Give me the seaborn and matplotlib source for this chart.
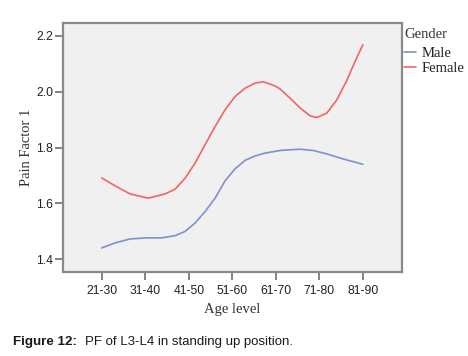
import matplotlib
matplotlib.use("Agg")
import matplotlib.pyplot as plt
import seaborn as sns
import pandas as pd

categories = ["21-30", "31-40", "41-50", "51-60", "61-70", "71-80", "81-90"]

# positions along the category axis (0 = 21-30 ... 6 = 81-90)
male_pos = [0.0, 0.306, 0.651, 1.0, 1.38, 1.685, 1.915, 2.145, 2.375, 2.605,
            2.835, 3.064, 3.294, 3.524, 3.754, 4.13, 4.56, 4.87, 5.172, 5.55, 6.0]
male_pf = [1.441, 1.459, 1.473, 1.477, 1.477, 1.485, 1.500, 1.530, 1.571, 1.619,
           1.681, 1.724, 1.754, 1.770, 1.780, 1.790, 1.794, 1.789, 1.777, 1.759, 1.740]

female_pos = [0.0, 0.306, 0.651, 1.07, 1.455, 1.685, 1.915, 2.145, 2.375, 2.605,
              2.835, 3.064, 3.294, 3.524, 3.715, 3.984, 4.10, 4.33, 4.56, 4.79,
              4.94, 5.172, 5.402, 5.632, 5.82, 6.0]
female_pf = [1.691, 1.663, 1.634, 1.619, 1.634, 1.651, 1.690, 1.744, 1.810, 1.875,
             1.935, 1.982, 2.012, 2.030, 2.035, 2.020, 2.009, 1.976, 1.941, 1.913,
             1.907, 1.923, 1.970, 2.040, 2.107, 2.167]

yticks = [1.4, 1.6, 1.8, 2.0, 2.2]

df = pd.DataFrame({
    "pos": male_pos + female_pos,
    "pf": male_pf + female_pf,
    "Gender": ["Male"] * len(male_pos) + ["Female"] * len(female_pos),
})

sns.set_style("white")
plt.rcParams["font.family"] = ["Liberation Sans", "DejaVu Sans"]
plt.rcParams["lines.solid_capstyle"] = "round"
plt.rcParams["lines.solid_joinstyle"] = "round"

fig = plt.figure(figsize=(4.68, 3.56), dpi=100)
ax = fig.add_axes([63 / 468, 84 / 356, 339 / 468, 249 / 356])
ax.set_facecolor("#f0f0f0")

palette = {"Male": "#7f90d2", "Female": "#f26464"}
sns.lineplot(data=df, x="pos", y="pf", hue="Gender", palette=palette,
             estimator=None, sort=False, linewidth=1.2, ax=ax)

ax.set_xlim(-0.89, 6.9)
ax.set_ylim(1.355, 2.245)
ax.set_xticks(range(len(categories)))
ax.set_xticklabels(categories)
ax.set_yticks(yticks)
ax.set_yticklabels([f"{v:.1f}" for v in yticks])
ax.tick_params(axis="both", which="major", bottom=True, left=True, length=6, width=1.2,
               color="#707070", labelsize=8.7, labelcolor="#222222", direction="out", pad=2)
ax.tick_params(axis="x", pad=3)
ax.tick_params(axis="y", length=6, pad=1)
for s in ax.spines.values():
    s.set_color("#8a8a8a")
    s.set_linewidth(1.6)

ax.set_xlabel("Age level", family="Liberation Serif", fontsize=10.5, color="#333333", labelpad=5)
ax.set_ylabel("Pain Factor 1", family="Liberation Serif", fontsize=10.5, color="#333333", labelpad=2)

leg = ax.legend(title="Gender", loc="upper left", bbox_to_anchor=(1.003, 0.985), frameon=False,
                prop={"family": "Liberation Serif", "size": 10.5},
                handlelength=0.8, handletextpad=0.35, borderaxespad=0.0,
                labelspacing=0.15, borderpad=0.1)
leg.get_title().set_family("Liberation Serif")
leg.get_title().set_fontsize(10.5)
leg.get_title().set_color("#333333")
leg._legend_box.align = "left"
leg._legend_box.sep = 4
for t in leg.get_texts():
    t.set_color("#222222")

fig.text(13 / 468, 1 - 342 / 356, "Figure 12:", fontsize=9.6, fontweight="bold",
         color="#1a1a1a", va="center", ha="left")
fig.text(85 / 468, 1 - 342 / 356, "PF of L3-L4 in standing up position.", fontsize=9.5,
         color="#1a1a1a", va="center", ha="left")

fig.savefig("out.png", dpi=100, facecolor="white")
